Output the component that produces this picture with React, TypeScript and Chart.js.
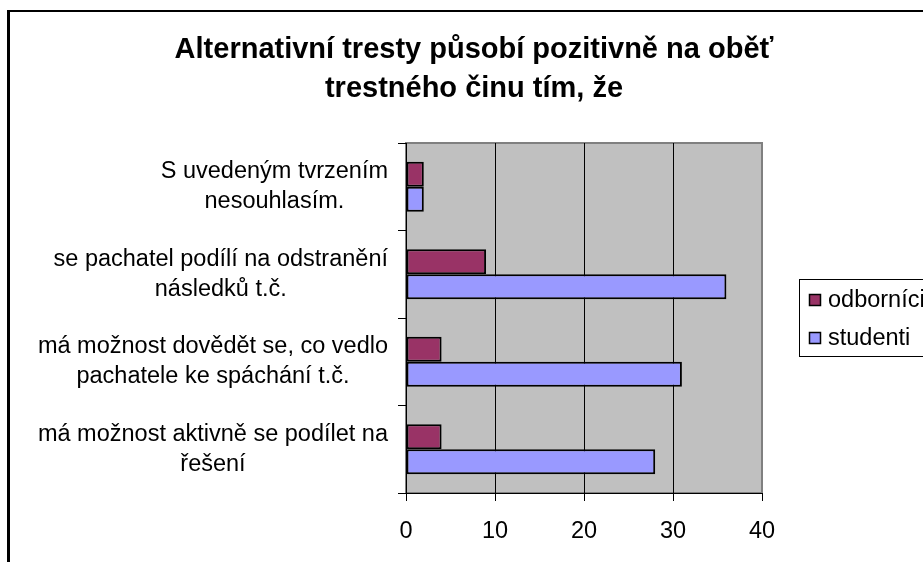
import React, { useEffect, useRef } from "react";
import { Chart, registerables } from "chart.js";

Chart.register(...registerables);

const titleLines = ["Alternativní tresty působí pozitivně na oběť", "trestného činu tím, že"];
const categories = [
  ["S uvedeným tvrzením", "nesouhlasím."],
  ["se pachatel podílí na odstranění", "následků t.č."],
  ["má možnost dovědět se, co vedlo", "pachatele ke spáchání t.č."],
  ["má možnost aktivně se podílet na", "řešení"],
];
const seriesNames = ["odborníci", "studenti"];
const odbornici = [2, 9, 4, 4];
const studenti = [2, 36, 31, 28];
const xMin = 0;
const xMax = 40;
const xStep = 10;

const FONT = "'Liberation Sans', Arial, sans-serif";
const COLORS = ["#993366", "#9999FF"];

const decorPlugin = {
  id: "decor",
  beforeDraw(chart: any) {
    const { ctx, chartArea } = chart;
    ctx.save();
    ctx.fillStyle = "#ffffff";
    ctx.fillRect(0, 0, chart.width, chart.height);
    ctx.fillStyle = "#000000";
    ctx.fillRect(7, 10, chart.width, 2);
    ctx.fillRect(7, 10, 3, chart.height);
    ctx.fillStyle = "#C0C0C0";
    ctx.fillRect(chartArea.left, chartArea.top, chartArea.right - chartArea.left, chartArea.bottom - chartArea.top);
    ctx.strokeStyle = "#808080";
    ctx.lineWidth = 2;
    ctx.strokeRect(chartArea.left, chartArea.top, chartArea.right - chartArea.left, chartArea.bottom - chartArea.top);
    ctx.fillStyle = "#000000";
    ctx.font = `bold 29px ${FONT}`;
    ctx.textAlign = "center";
    ctx.textBaseline = "alphabetic";
    ctx.fillText(titleLines[0], 474, 58);
    ctx.fillText(titleLines[1], 474, 97);
    ctx.restore();
  },
  afterDraw(chart: any) {
    const { ctx } = chart;
    const yScale = chart.scales.y;
    ctx.save();
    ctx.fillStyle = "#000000";
    ctx.font = `23.5px ${FONT}`;
    ctx.textBaseline = "middle";
    ctx.textAlign = "center";
    const lineH = 30;
    const rightEdge = 388;
    categories.forEach((lines, i) => {
      const cy = yScale.getPixelForValue(i);
      const w = Math.max(...lines.map((l) => ctx.measureText(l).width));
      const cx = rightEdge - w / 2;
      lines.forEach((l, j) => {
        const y = cy + (j - (lines.length - 1) / 2) * lineH;
        ctx.fillText(l, cx, y);
      });
    });
    ctx.strokeStyle = "#000000";
    ctx.lineWidth = 1;
    ctx.strokeRect(799.5, 279.5, 300, 77);
    ctx.textAlign = "left";
    const rows = [300, 338];
    chart.data.datasets.forEach((ds: any, i: number) => {
      const y = rows[i];
      ctx.fillStyle = ds.backgroundColor;
      ctx.fillRect(809, y - 6, 12, 12);
      ctx.lineWidth = 1.5;
      ctx.strokeRect(809.5, y - 5.5, 11, 11);
      ctx.fillStyle = "#000000";
      ctx.fillText(ds.label, 828, y + 1);
    });
    ctx.restore();
  },
};

export default function App() {
  const ref = useRef<HTMLCanvasElement | null>(null);
  useEffect(() => {
    if (!ref.current) return;
    const chart = new Chart(ref.current, {
      type: "bar",
      data: {
        labels: categories.map((c) => c.join(" ")),
        datasets: [
          {
            label: seriesNames[0],
            data: odbornici,
            backgroundColor: COLORS[0],
            borderColor: "#000000",
            borderWidth: 2,
            borderSkipped: false,
            categoryPercentage: 50 / 87.5,
            barPercentage: 1,
          },
          {
            label: seriesNames[1],
            data: studenti,
            backgroundColor: COLORS[1],
            borderColor: "#000000",
            borderWidth: 2,
            borderSkipped: false,
            categoryPercentage: 50 / 87.5,
            barPercentage: 1,
          },
        ],
      },
      options: {
        indexAxis: "y",
        responsive: false,
        animation: false,
        layout: { padding: { top: 143, left: 0, right: 161, bottom: 0 } },
        plugins: {
          legend: { display: false },
          title: { display: false },
          tooltip: { enabled: false },
        },
        scales: {
          x: {
            min: xMin,
            max: xMax,
            ticks: {
              stepSize: xStep,
              color: "#000000",
              font: { family: FONT, size: 23.5 },
              padding: 16,
            },
            grid: {
              color: (c: any) => (c.tick && c.tick.value === xMax ? "#808080" : "#000000"),
              lineWidth: 1,
              tickLength: 8,
              tickColor: "#000000",
            },
            border: { color: "#000000", width: 1 },
            afterFit: (s: any) => {
              s.height = 69;
            },
          },
          y: {
            ticks: { display: false },
            grid: {
              drawOnChartArea: false,
              tickLength: 8,
              tickColor: "#000000",
              color: "#000000",
            },
            border: { color: "#000000", width: 1 },
            afterFit: (s: any) => {
              s.width = 406;
            },
          },
        },
      },
      plugins: [decorPlugin],
    });
    return () => chart.destroy();
  }, []);
  return (
    <div style={{ position: "absolute", left: 0, top: 0, width: 923, height: 562 }}>
      <canvas ref={ref} width={923} height={562} style={{ width: 923, height: 562, display: "block" }} />
    </div>
  );
}
